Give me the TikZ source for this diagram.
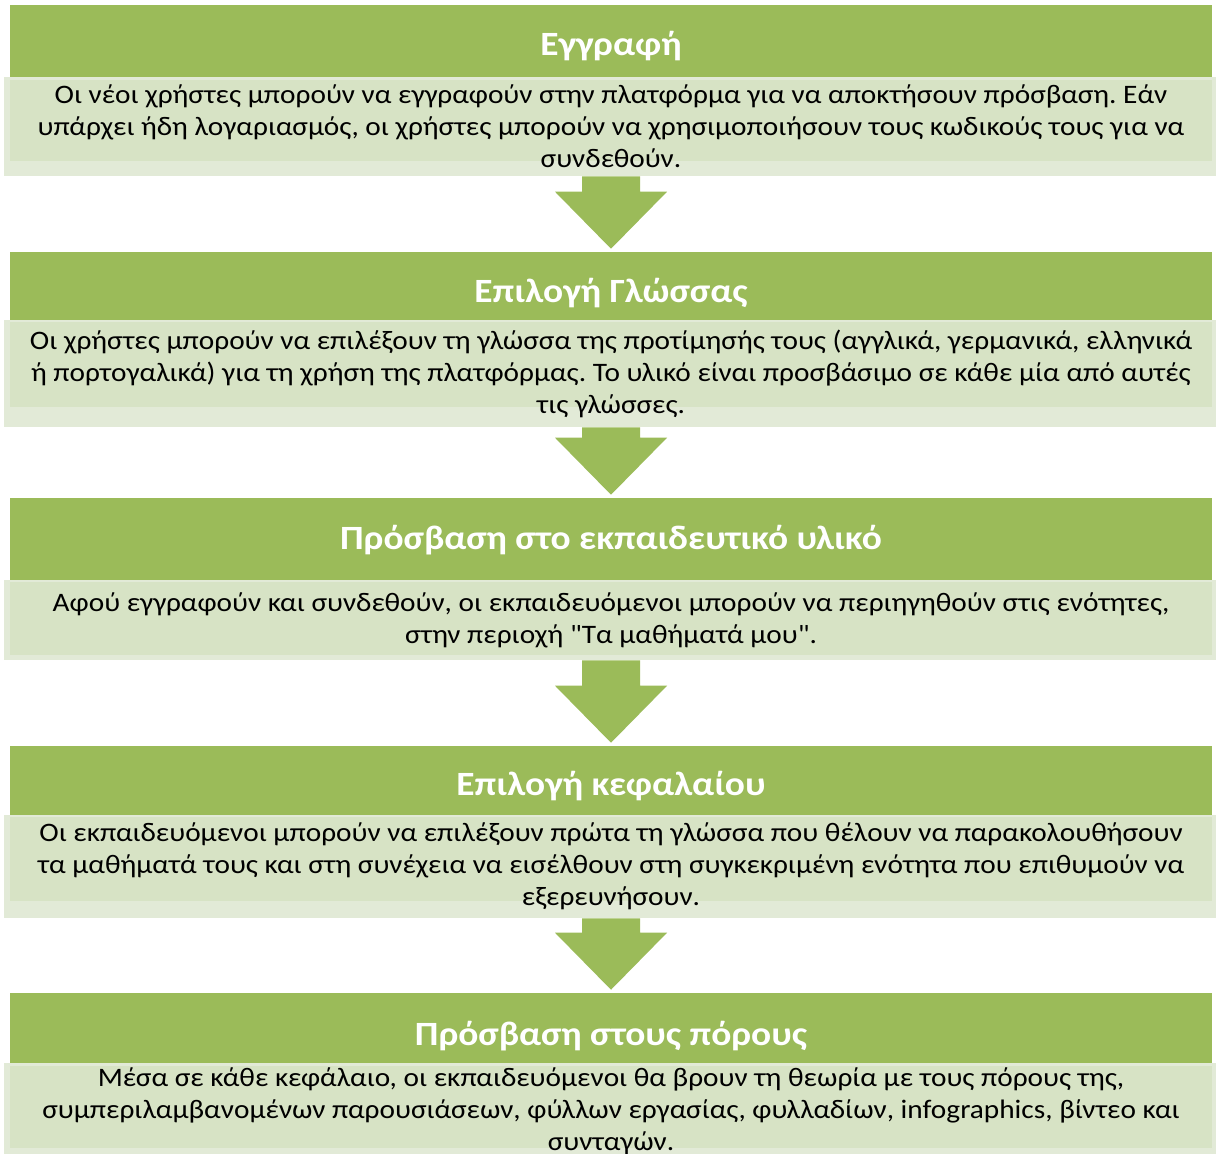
\documentclass[tikz,border=0pt]{standalone}
\usepackage{fontspec}
\setmainfont{Carlito}[Ligatures=TeXOff, FakeStretch=1.1]
\frenchspacing
\usetikzlibrary{calc,fit}
\definecolor{stepgreen}{HTML}{9BBB59}
\definecolor{boxfill}{HTML}{D7E3C5}
\definecolor{boxband}{HTML}{E2EAD7}
\tikzset{
  hdr/.style={fill=stepgreen, inner sep=0pt, draw=none},
  band/.style={fill=boxband, inner sep=0pt, draw=none},
  titletext/.style={text=white, inner sep=0pt, anchor=base, font=\bfseries\fontsize{25.5}{30}\selectfont},
  bodytext/.style={align=center, inner sep=0pt, font=\fontsize{20}{24}\selectfont},
  flow/.style={fill=stepgreen},
}
% block arrow from the bottom of a text box to the top of the next header
\newcommand\stepflow[2]{%
  \fill[flow] ($(#1.south)+(-29,0)$) -- ($(#1.south)+(29,0)$)
    -- ($(#2.north)+(29,-60)$) -- ($(#2.north)+(56,-60)$)
    -- ($(#2.north)+(0,-3)$)
    -- ($(#2.north)+(-56,-60)$) -- ($(#2.north)+(-29,-60)$) -- cycle;}
\begin{document}
\begin{tikzpicture}[x=0.75pt,y=-0.75pt]
\useasboundingbox (0,0) rectangle (1216,1153);
\clip (0,0) rectangle (1216,1153);

% step 1
\node[hdr, fit={(10,5) (1212,77)}] (h1) {};
\node[titletext] (n1) at ($(h1.north)+(0,51)$) {Εγγραφή};
\node[band, fit={(4,77) (1218,176)}] (t1) {};
\fill[boxfill] (10,80) rectangle (1212,161);
\node[bodytext] (d1) at (t1.center) {Οι νέοι χρήστες μπορούν να εγγραφούν στην πλατφόρμα για να αποκτήσουν πρόσβαση. Εάν\\υπάρχει ήδη λογαριασμός, οι χρήστες μπορούν να χρησιμοποιήσουν τους κωδικούς τους για να\\συνδεθούν.};

% step 2
\node[hdr, fit={(10,252) (1212,320)}] (h2) {};
\node[titletext] (n2) at ($(h2.north)+(0,51)$) {Επιλογή Γλώσσας};
\node[band, fit={(4,320) (1218,427)}] (t2) {};
\fill[boxfill] (10,322) rectangle (1212,407);
\node[bodytext] (d2) at (t2.center) {Οι χρήστες μπορούν να επιλέξουν τη γλώσσα της προτίμησής τους (αγγλικά, γερμανικά, ελληνικά\\ή πορτογαλικά) για τη χρήση της πλατφόρμας. Το υλικό είναι προσβάσιμο σε κάθε μία από αυτές\\τις γλώσσες.};

% step 3
\node[hdr, fit={(10,498) (1212,580)}] (h3) {};
\node[titletext] (n3) at ($(h3.north)+(0,52)$) {Πρόσβαση στο εκπαιδευτικό υλικό};
\node[band, fit={(4,580) (1218,660)}] (t3) {};
\fill[boxfill] (10,582) rectangle (1212,655);
\node[bodytext] (d3) at (t3.center) {Αφού εγγραφούν και συνδεθούν, οι εκπαιδευόμενοι μπορούν να περιηγηθούν στις ενότητες,\\στην περιοχή "Τα μαθήματά μου".};

% step 4
\node[hdr, fit={(10,746) (1212,815)}] (h4) {};
\node[titletext] (n4) at ($(h4.north)+(0,50)$) {Επιλογή κεφαλαίου};
\node[band, fit={(4,815) (1218,918)}] (t4) {};
\fill[boxfill] (10,817) rectangle (1212,901);
\node[bodytext] (d4) at (t4.center) {Οι εκπαιδευόμενοι μπορούν να επιλέξουν πρώτα τη γλώσσα που θέλουν να παρακολουθήσουν\\τα μαθήματά τους και στη συνέχεια να εισέλθουν στη συγκεκριμένη ενότητα που επιθυμούν να\\εξερευνήσουν.};

% step 5
\node[hdr, fit={(10,993) (1212,1063)}] (h5) {};
\node[titletext] (n5) at ($(h5.north)+(0,53)$) {Πρόσβαση στους πόρους};
\node[band, fit={(4,1063) (1218,1160)}] (t5) {};
\fill[boxfill] (10,1066) rectangle (1212,1148);
\node[bodytext] (d5) at (t5.center) {Μέσα σε κάθε κεφάλαιο, οι εκπαιδευόμενοι θα βρουν τη θεωρία με τους πόρους της,\\συμπεριλαμβανομένων παρουσιάσεων, φύλλων εργασίας, φυλλαδίων, infographics, βίντεο και\\συνταγών.};

% connectors
\stepflow{t1}{h2}
\stepflow{t2}{h3}
\stepflow{t3}{h4}
\stepflow{t4}{h5}
\end{tikzpicture}
\end{document}
